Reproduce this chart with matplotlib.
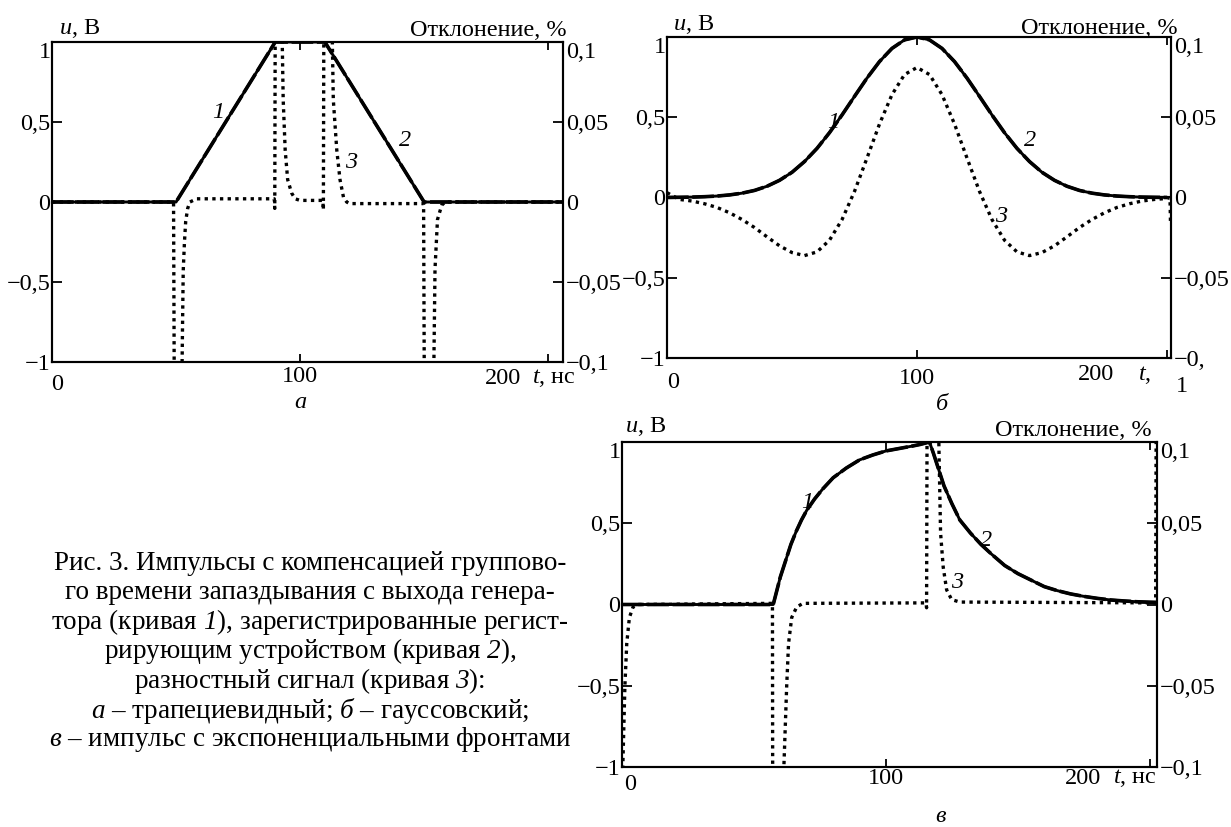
import matplotlib
matplotlib.use("Agg")
import matplotlib.pyplot as plt

plt.rcParams.update({
    "font.family": ["Liberation Serif", "DejaVu Serif"],
    "mathtext.fontset": "custom",
    "mathtext.rm": "Liberation Serif",
    "mathtext.it": "Liberation Serif:italic",
    "mathtext.sf": "Liberation Serif:italic",
    "axes.linewidth": 1.5,
})

# ---------------- data ----------------
# panel a: trapezoidal pulse
ta_12 = [0, 50, 90, 110, 150, 206]
ua_1 = [0, 0, 1, 1, 0, 0]
ua_2 = [0, 0, 1, 1, 0, 0]
ta_3 = [0, 49.0, 49.3, 52.3, 52.6, 52.9, 53.4, 53.9, 54.7, 55.6, 58.3, 89.6, 89.8, 90.0,
        92.6, 93.2, 94.0, 95.0, 96.6, 98.0, 100.0, 109.2, 109.4, 109.6, 112.8, 113.4,
        114.8, 116.1, 117.5, 118.8, 120.0, 149.8, 150.1, 153.8, 154.4, 155.4, 157.1,
        158.5, 206]
da_3 = [0.0, 0.0, -0.12, -0.12, -0.08, -0.043, -0.025, -0.012, -0.004, 0.0, 0.002, 0.002,
        -0.004, 0.12, 0.12, 0.064, 0.0325, 0.014, 0.0056, 0.002, 0.001, 0.001, -0.005, 0.12,
        0.12, 0.064, 0.0325, 0.014, 0.003, 0.0, -0.001, -0.001, -0.12, -0.12, -0.042,
        -0.011, -0.002, 0.0, 0.0]

# panel b: gaussian pulse
tb = [0, 5, 10, 15, 20, 25, 30, 35, 40, 45, 50, 55, 60, 65, 70, 75, 80, 85, 90, 95, 100,
      105, 110, 115, 120, 125, 130, 135, 140, 145, 150, 155, 160, 165, 170, 175, 180, 185,
      190, 195, 200]
ub_1 = [0.001, 0.0013, 0.0025, 0.005, 0.009, 0.016, 0.027, 0.044, 0.070, 0.107, 0.157,
        0.224, 0.306, 0.404, 0.514, 0.630, 0.744, 0.847, 0.929, 0.982, 1.0, 0.982, 0.929,
        0.847, 0.744, 0.630, 0.514, 0.404, 0.306, 0.224, 0.157, 0.107, 0.070, 0.044, 0.027,
        0.016, 0.009, 0.005, 0.0025, 0.0013, 0.001]
ub_2 = [0.0, 0.0013, 0.0025, 0.005, 0.009, 0.016, 0.027, 0.044, 0.070, 0.107, 0.157,
        0.224, 0.306, 0.404, 0.514, 0.630, 0.744, 0.847, 0.929, 0.982, 1.0, 0.982, 0.929,
        0.847, 0.744, 0.630, 0.514, 0.404, 0.306, 0.224, 0.157, 0.107, 0.070, 0.044, 0.027,
        0.016, 0.009, 0.005, 0.0025, 0.0013, 0.0]
tb_3 = [0, 5, 10, 15, 20, 25, 30, 35, 40, 45, 50, 55, 60, 65, 70, 75, 80, 85, 90, 95, 100,
        105, 110, 115, 120, 125, 130, 135, 140, 145, 150, 155, 160, 165, 170, 175, 180, 185,
        190, 195, 200, 201.2, 201.4]
db_3 = [0.003, -0.0012, -0.0022, -0.0039, -0.0062, -0.0095, -0.0137, -0.0187, -0.0245,
        -0.0301, -0.0343, -0.0362, -0.0339, -0.0266, -0.0138, 0.0038, 0.0246, 0.0458, 0.0641,
        0.0766, 0.081, 0.0766, 0.0641, 0.0458, 0.0246, 0.0038, -0.0138, -0.0266, -0.0339,
        -0.0362, -0.0343, -0.0301, -0.0245, -0.0187, -0.0137, -0.0095, -0.0062, -0.0039,
        -0.0022, -0.0012, -0.0006, 0.0, -0.016]

# panel c: pulse with exponential fronts
tc_12 = [0, 57.3, 60, 62, 64, 66, 68, 70, 73, 76, 80, 85, 90, 95, 100, 105, 110, 113, 116.5,
         118, 120, 122, 125, 128, 132, 136, 140, 145, 150, 155, 160, 165, 170, 175, 180, 185,
         190, 195, 200, 202.7]
uc_1 = [0, 0, 0.17, 0.27, 0.37, 0.45, 0.52, 0.58, 0.65, 0.71, 0.78, 0.84, 0.89, 0.92, 0.945,
        0.96, 0.975, 0.985, 1.0, 0.93, 0.83, 0.73, 0.62, 0.52, 0.44, 0.37, 0.31, 0.24, 0.19,
        0.15, 0.11, 0.085, 0.065, 0.05, 0.038, 0.028, 0.022, 0.017, 0.014, 0.013]
uc_2 = [0, 0, 0.17, 0.27, 0.37, 0.45, 0.52, 0.58, 0.65, 0.71, 0.78, 0.84, 0.89, 0.92, 0.945,
        0.96, 0.975, 0.985, 1.0, 0.93, 0.83, 0.73, 0.62, 0.52, 0.44, 0.37, 0.31, 0.24, 0.19,
        0.15, 0.11, 0.085, 0.065, 0.05, 0.038, 0.028, 0.022, 0.017, 0.014, 0.013]
tc_3 = [0.0, 0.3, 1.1, 1.8, 2.8, 4.2, 5.6, 57.0, 57.1, 60.9, 62.4, 63.1, 64.3, 66.2, 68.6,
        115.2, 115.4, 115.6, 119.8, 120.7, 121.7, 123.0, 124.9, 128.0, 202.2, 202.4, 202.7]
dc_3 = [-0.12, -0.10, -0.05, -0.024, -0.008, -0.0015, 0.0, 0.0007, -0.12, -0.12, -0.05,
        -0.024, -0.008, -0.0015, 0.0007, 0.001, -0.002, 0.12, 0.12, 0.044, 0.023, 0.009,
        0.003, 0.0015, 0.001, 0.12, 0.12]

left_ticks = [-1, -0.5, 0, 0.5, 1]
left_labels = ["−1", "−0,5", "0", "0,5", "1"]
right_ticks = [-0.1, -0.05, 0, 0.05, 0.1]
right_labels = ["−0,1", "−0,05", "0", "0,05", "0,1"]

caption = [
    "Рис. 3. Импульсы с компенсацией группово-",
    "го времени запаздывания с выхода генера-",
    r"тора (кривая $\mathsf{1}$), зарегистрированные регист-",
    r"рирующим устройством (кривая $\mathsf{2}$),",
    r"разностный сигнал (кривая $\mathsf{3}$):",
    r"$\mathsf{а}$ – трапециевидный; $\mathsf{б}$ – гауссовский;",
    r"$\mathsf{в}$ – импульс с экспоненциальными фронтами",
]

# ---------------- drawing ----------------
W, H = 1231, 827
fig = plt.figure(figsize=(W / 100, H / 100), dpi=100)
FS = 17.5


def T(x, y, s, **kw):
    kw.setdefault("fontsize", FS)
    kw.setdefault("ha", "center")
    kw.setdefault("va", "center")
    return fig.text(x / W, 1 - y / H, s, **kw)


def panel(box, xmax, t12, u1, u2, t3, d3, rlabels):
    l, t, r, b = box
    ax = fig.add_axes([l / W, 1 - b / H, (r - l) / W, (b - t) / H])
    ax.plot(t12, u1, color="black", lw=2.1)
    ax.plot(t12, u2, color="black", lw=2.6, ls=(0, (6, 1)))
    ax.set_xlim(0, xmax)
    ax.set_ylim(-1, 1)
    ax.set_xticks([100, 200])
    ax.set_xticklabels([])
    ax.set_yticks(left_ticks)
    ax.set_yticklabels(left_labels)
    ax.tick_params(axis="x", direction="in", length=6, width=1.3, top=True, bottom=True)
    ax.tick_params(axis="y", direction="in", length=7, width=1.3, labelsize=FS, pad=1)
    ax2 = ax.twinx()
    ax2.plot(t3, d3, color="black", lw=2.4, ls=(0, (1, 1.3)))
    ax2.set_ylim(-0.1, 0.1)
    ax2.set_yticks(right_ticks)
    ax2.set_yticklabels(rlabels)
    ax2.tick_params(axis="y", direction="in", length=7, width=1.3, labelsize=FS, pad=2)
    for a in (ax, ax2):
        for s in a.spines.values():
            s.set_linewidth(1.5)
    ax.yaxis.get_major_ticks()[-1].label1.set_verticalalignment("top")
    ax2.yaxis.get_major_ticks()[-1].label2.set_verticalalignment("top")
    return ax, ax2


# panel a
panel((52, 42, 563, 362), 206, ta_12, ua_1, ua_2, ta_3, da_3, right_labels)
T(59, 28, r"$\mathit{u}$, В", ha="left")
T(567, 30, "Отклонение, %", ha="right")
T(57, 385, "0"); T(300, 377, "100"); T(503, 378, "200")
T(532, 378, r"$\mathit{t}$, нс", ha="left")
T(218, 113, "1", style="italic"); T(405, 140, "2", style="italic"); T(351, 162, "3", style="italic")
T(300, 403, "а", style="italic")

# panel b
panel((667, 37, 1171, 358), 201.6, tb, ub_1, ub_2, tb_3, db_3,
      ["−0,", "−0,05", "0", "0,05", "0,1"])
T(673, 24, r"$\mathit{u}$, В", ha="left")
T(1178, 28, "Отклонение, %", ha="right")
T(673, 383, "0"); T(917, 378, "100"); T(1096, 375, "200")
T(1138, 375, r"$\mathit{t}$,", ha="left")
T(1182, 387, "1")
T(833, 122, "1", style="italic"); T(1030, 140, "2", style="italic"); T(1001, 217, "3", style="italic")
T(942, 405, "б", style="italic")

# panel c
panel((622, 442, 1157, 767), 202.7, tc_12, uc_1, uc_2, tc_3, dc_3, right_labels)
T(625, 426, r"$\mathit{u}$, В", ha="left")
T(1152, 430, "Отклонение, %", ha="right")
T(630, 785, "0"); T(886, 778, "100"); T(1083, 778, "200")
T(1113, 778, r"$\mathit{t}$, нс", ha="left")
T(807, 502, "1", style="italic"); T(986, 540, "2", style="italic"); T(957, 582, "3", style="italic")
T(940, 816, "в", style="italic")

# caption
for i, line in enumerate(caption):
    T(310, 563 + i * 29.5, line, fontsize=19.5)

fig.savefig("out.png", dpi=100)
